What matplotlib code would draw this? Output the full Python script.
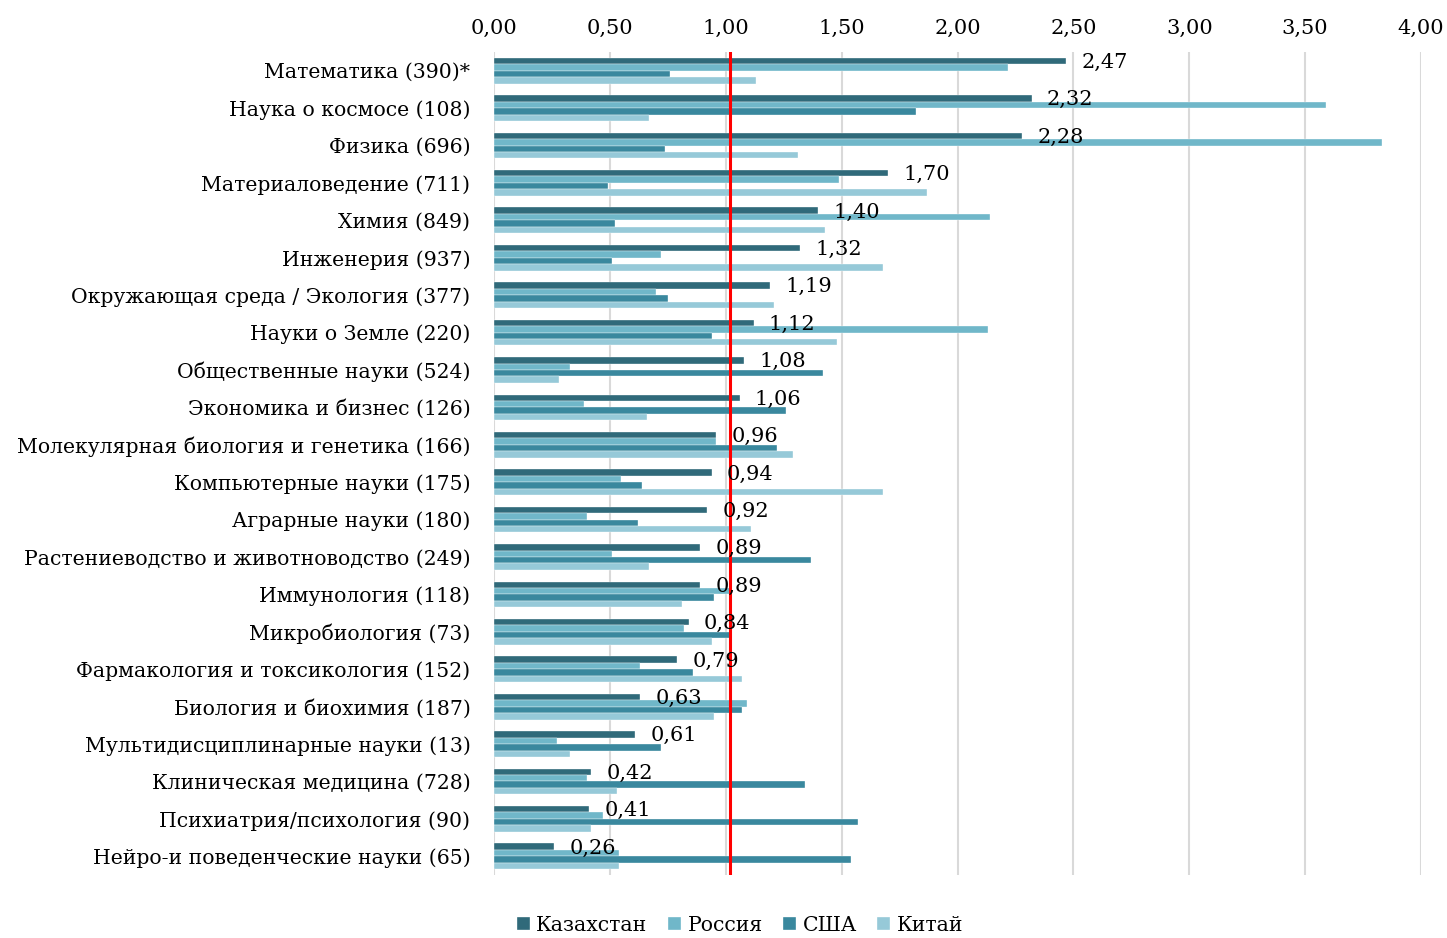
import matplotlib
matplotlib.use("Agg")
import matplotlib.pyplot as plt
import numpy as np
from matplotlib.ticker import FuncFormatter

plt.rcParams['font.family'] = ['DejaVu Serif']

categories = [
    "Математика (390)*", "Наука о космосе (108)", "Физика (696)",
    "Материаловедение (711)", "Химия (849)", "Инженерия (937)",
    "Окружающая среда / Экология (377)", "Науки о Земле (220)",
    "Общественные науки (524)", "Экономика и бизнес (126)",
    "Молекулярная биология и генетика (166)", "Компьютерные науки (175)",
    "Аграрные науки (180)", "Растениеводство и животноводство (249)",
    "Иммунология (118)", "Микробиология (73)",
    "Фармакология и токсикология (152)", "Биология и биохимия (187)",
    "Мультидисциплинарные науки (13)", "Клиническая медицина (728)",
    "Психиатрия/психология (90)", "Нейро-и поведенческие науки (65)",
]

kazakhstan = [2.47, 2.32, 2.28, 1.70, 1.40, 1.32, 1.19, 1.12, 1.08, 1.06, 0.96,
              0.94, 0.92, 0.89, 0.89, 0.84, 0.79, 0.63, 0.61, 0.42, 0.41, 0.26]
russia = [2.22, 3.59, 3.83, 1.49, 2.14, 0.72, 0.70, 2.13, 0.33, 0.39, 0.96,
          0.55, 0.40, 0.51, 1.02, 0.82, 0.63, 1.09, 0.27, 0.40, 0.47, 0.54]
usa = [0.76, 1.82, 0.74, 0.49, 0.52, 0.51, 0.75, 0.94, 1.42, 1.26, 1.22,
       0.64, 0.62, 1.37, 0.95, 1.02, 0.86, 1.07, 0.72, 1.34, 1.57, 1.54]
china = [1.13, 0.67, 1.31, 1.87, 1.43, 1.68, 1.21, 1.48, 0.28, 0.66, 1.29,
         1.68, 1.11, 0.67, 0.81, 0.94, 1.07, 0.95, 0.33, 0.53, 0.42, 0.54]

series_names = ["Казахстан", "Россия", "США", "Китай"]
colors = ["#306A7A", "#70B7C9", "#3A889E", "#96C9D8"]
reference_value = 1.02

fig = plt.figure(figsize=(14.47, 9.38), dpi=100)
ax = fig.add_axes([494/1447, 1 - 875/938, 927/1447, 823/938])

y = np.arange(len(categories))
h = 0.172
for i, (vals, name, c) in enumerate(zip([kazakhstan, russia, usa, china], series_names, colors)):
    ax.barh(y + (i - 1.5) * h, vals, height=h, color=c, label=name,
            edgecolor="white", linewidth=0.25, zorder=2)

for yi, v in zip(y, kazakhstan):
    ax.annotate(f"{v:.2f}".replace(".", ","), (v, yi - 1.5 * h),
                xytext=(11, -1), textcoords="offset points",
                va="center", ha="left", fontsize=15, zorder=4)

ax.axvline(reference_value, color="#FF0000", lw=2.2, zorder=3)

ax.set_xlim(0, 4)
ax.set_ylim(len(categories) - 0.5, -0.5)
ax.set_xticks(np.arange(0, 4.01, 0.5))
ax.xaxis.set_major_formatter(FuncFormatter(lambda x, p: f"{x:.2f}".replace(".", ",")))
ax.xaxis.tick_top()
ax.tick_params(axis="x", length=0, pad=10, labelsize=15)
ax.set_yticks(y)
ax.set_yticklabels(categories, fontsize=14.7)
ax.tick_params(axis="y", length=0, pad=17)
ax.grid(axis="x", color="#D9D9D9", lw=1.5, zorder=0)
ax.set_axisbelow(True)
for s in ax.spines.values():
    s.set_visible(False)

fig.legend(loc="center", bbox_to_anchor=(740/1447, 1 - 925/938), ncol=4,
           frameon=False, fontsize=14.7, handlelength=0.65, handleheight=0.65,
           handletextpad=0.3, columnspacing=1.0)

fig.savefig("out.png", dpi=100)
